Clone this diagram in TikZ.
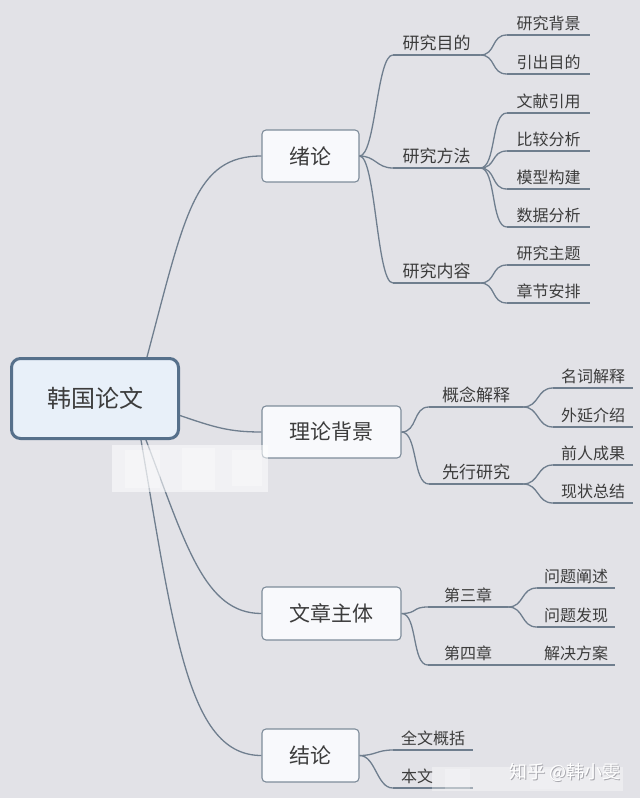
\documentclass[tikz,border=0pt]{standalone}
\usepackage{fontspec}
\setmainfont{Noto Sans CJK SC}
\usetikzlibrary{calc}
\definecolor{bg}{HTML}{E2E2E7}
\definecolor{lnc}{HTML}{6F7E8E}
\definecolor{txt}{HTML}{3C3C3C}
\definecolor{boxln}{HTML}{7E8C9A}
\definecolor{boxfill}{HTML}{F8F9FC}
\definecolor{rootln}{HTML}{56708B}
\definecolor{rootfill}{HTML}{E8F0F9}
\definecolor{wmshadow}{HTML}{A8A8AE}
\tikzset{
  link/.style={draw=lnc, line width=1.3pt},
  topbox/.style={draw=boxln, fill=boxfill, rounded corners=4pt, line width=1.1pt,
    text=txt, font=\fontsize{21}{21}\selectfont, inner sep=0pt, minimum height=52pt},
  rootbox/.style={draw=rootln, fill=rootfill, rounded corners=9pt, line width=3pt,
    text=txt, font=\fontsize{24}{24}\selectfont, inner sep=0pt,
    minimum width=167pt, minimum height=80pt},
  lblA/.style={anchor=south, inner xsep=0pt, inner ysep=4pt, text=txt,
    font=\fontsize{17}{17}\selectfont},
  lblB/.style={lblA, font=\fontsize{16}{16}\selectfont},
  blur/.style={fill=white, draw=none},
  wmark/.style={font=\fontsize{18}{18}\selectfont, inner sep=0pt},
}
\newcommand{\ulab}[6]{%
  \node[#1, minimum width={#5-#4}] (#2) at ({(#4+#5)/2},#6) {#3};
  \draw[link] (#2.south west) -- (#2.south east);}
\newcommand{\brlink}[2]{%
  \draw[link] (#1) .. controls +(16,0) and +(-16,0) .. (#2);}
\begin{document}
\begin{tikzpicture}[x=1pt,y=-1pt]
\fill[bg] (0,0) rectangle (640,798);
\useasboundingbox (0,0) rectangle (640,798);

% root and main boxes
\node[rootbox] (root) at (95,398.5) {韩国论文};
\node[topbox, minimum width=97pt] (xl) at (310.5,156) {绪论};
\node[topbox, minimum width=139pt] (llbj) at (331.5,432) {理论背景};
\node[topbox, minimum width=139pt, minimum height=53pt] (wzzt) at (331.5,613.5) {文章主体};
\node[topbox, minimum width=97pt, minimum height=53pt] (jl) at (310.5,755.5) {结论};

% root connectors
\draw[link] ([xshift=52pt]root.north) .. controls +(38,-143) and +(-67,0) .. (xl.west);
\draw[link] ([yshift=-17pt]root.east) .. controls +(35,12) and +(-32,0) .. (llbj.west);
\draw[link] ([xshift=51pt]root.south) .. controls +(40,105) and +(-57,0) .. (wzzt.west);
\draw[link] ([xshift=46pt]root.south) .. controls +(34,200) and +(-72,0) .. (jl.west);

% 绪论 branch
\ulab{lblA}{a1}{研究目的}{393}{480}{55}
\ulab{lblA}{a2}{研究方法}{393}{480}{168}
\ulab{lblA}{a3}{研究内容}{393}{480}{283}
\brlink{xl.east}{a1.south west}
\brlink{xl.east}{a2.south west}
\brlink{xl.east}{a3.south west}
\ulab{lblB}{a11}{研究背景}{507}{590}{35}
\ulab{lblB}{a12}{引出目的}{507}{590}{74}
\ulab{lblB}{a21}{文献引用}{507}{590}{113}
\ulab{lblB}{a22}{比较分析}{507}{590}{151}
\ulab{lblB}{a23}{模型构建}{507}{590}{189}
\ulab{lblB}{a24}{数据分析}{507}{590}{227}
\ulab{lblB}{a31}{研究主题}{507}{590}{265}
\ulab{lblB}{a32}{章节安排}{507}{590}{303}
\brlink{a1.south east}{a11.south west}
\brlink{a1.south east}{a12.south west}
\brlink{a2.south east}{a21.south west}
\brlink{a2.south east}{a22.south west}
\brlink{a2.south east}{a23.south west}
\brlink{a2.south east}{a24.south west}
\brlink{a3.south east}{a31.south west}
\brlink{a3.south east}{a32.south west}

% 理论背景 branch
\ulab{lblA}{b1}{概念解释}{429}{523}{407}
\ulab{lblA}{b2}{先行研究}{429}{523}{484}
\brlink{llbj.east}{b1.south west}
\brlink{llbj.east}{b2.south west}
\ulab{lblB}{b11}{名词解释}{553}{633}{388}
\ulab{lblB}{b12}{外延介绍}{553}{633}{427}
\ulab{lblB}{b21}{前人成果}{553}{633}{465}
\ulab{lblB}{b22}{现状总结}{553}{633}{503}
\brlink{b1.south east}{b11.south west}
\brlink{b1.south east}{b12.south west}
\brlink{b2.south east}{b21.south west}
\brlink{b2.south east}{b22.south west}

% 文章主体 branch
\ulab{lblB}{c1}{第三章}{428}{508}{607}
\ulab{lblB}{c2}{第四章}{428}{508}{665}
\brlink{wzzt.east}{c1.south west}
\brlink{wzzt.east}{c2.south west}
\ulab{lblB}{c11}{问题阐述}{537}{615}{588}
\ulab{lblB}{c12}{问题发现}{537}{615}{627}
\ulab{lblB}{c21}{解决方案}{537}{615}{665}
\brlink{c1.south east}{c11.south west}
\brlink{c1.south east}{c12.south west}
\draw[link] (c2.south east) -- (c21.south west);

% 结论 branch
\ulab{lblB}{d1}{全文概括}{393}{473}{750}
\ulab{lblB}{d2}{本文\hphantom{本文}}{393}{473}{788}
\brlink{jl.east}{d1.south west}
\brlink{jl.east}{d2.south west}

% blurred patches
\fill[blur, opacity=0.55] (112,445) rectangle (268,492);
\fill[blur, opacity=0.35] (125,450) rectangle (160,488);
\fill[blur, opacity=0.35] (182,448) rectangle (215,490);
\fill[blur, opacity=0.35] (232,450) rectangle (262,486);
\fill[blur, opacity=0.35] (432,767) rectangle (623,791);
\fill[blur, opacity=0.25] (445,769) rectangle (470,789);
\fill[blur, opacity=0.2] (530,769) rectangle (560,789);

% watermark
\node[wmark, text=wmshadow] at (566,773) {知乎 @韩小雯};
\node[wmark, text=white] (wm) at (565,772) {知乎 @韩小雯};
\end{tikzpicture}
\end{document}
